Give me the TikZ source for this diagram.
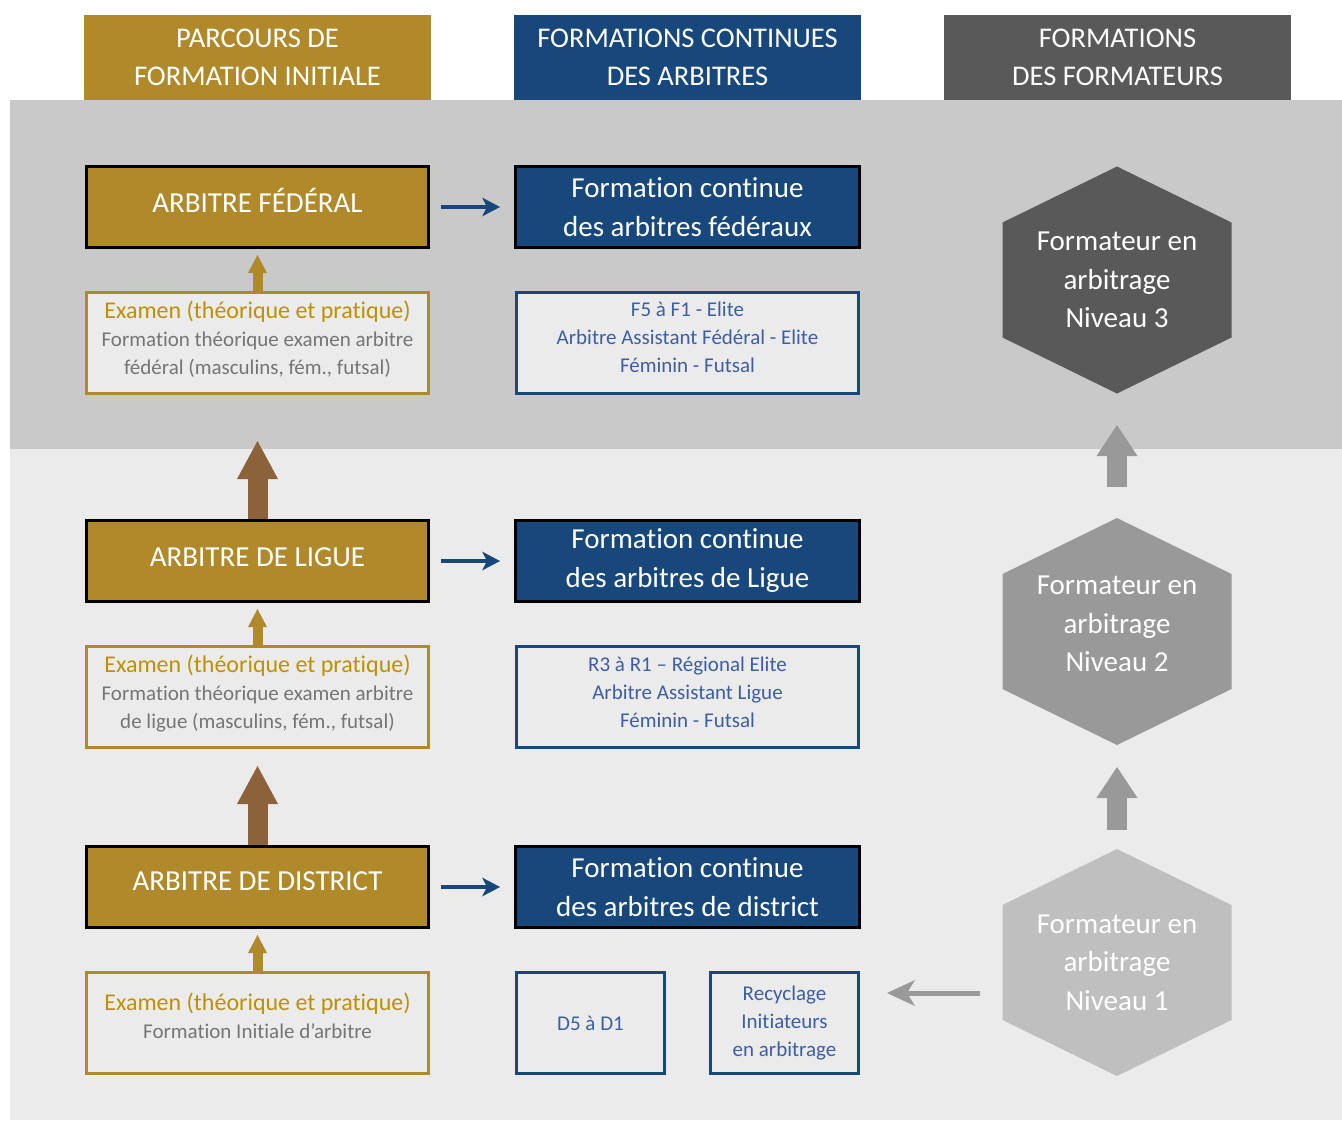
\documentclass[tikz,border=0pt]{standalone}
\usepackage{fontspec}
\setmainfont{Carlito}[Ligatures=NoCommon]
\usetikzlibrary{positioning,
        arrows.meta}
\usepackage{xcolor}
\definecolor{ocre}{HTML}{B0892B}
\definecolor{navy}{HTML}{17477B}
\definecolor{slate}{HTML}{595959}
\definecolor{examgold}{HTML}{BF9000}
\definecolor{txtgray}{HTML}{757575}
\definecolor{txtblue}{HTML}{3C5FA3}
\definecolor{brownarrow}{HTML}{8C623A}
\definecolor{bandtop}{HTML}{C9C9C9}
\definecolor{bandlow}{HTML}{EBEBEB}
\definecolor{hexone}{HTML}{BFBFBF}
\definecolor{hextwo}{HTML}{999999}

\begin{document}
\begin{tikzpicture}[x=1pt,y=-1pt,
        base/.style={inner sep=0pt,align=center},
        headbox/.style={base,text=white,minimum width=347pt,minimum height=85pt,
                font=\fontsize{28.5}{38}\selectfont},
        levelbox/.style={base,draw=black,line width=3pt,fill=ocre,text=white,text height=20pt,text depth=10pt,
                minimum width=342pt,minimum height=81pt,font=\fontsize{29}{39}\selectfont},
        contbox/.style={base,draw=black,line width=3pt,fill=navy,text=white,
                minimum width=344pt,minimum height=81pt,font=\fontsize{29}{39}\selectfont},
        exambox/.style={base,draw=ocre,line width=3pt,fill=bandlow,text=txtgray,text depth=11pt,
                minimum width=342pt,minimum height=101pt,font=\fontsize{21}{28}\selectfont},
        listbox/.style={base,draw=navy,line width=3pt,fill=bandlow,text=txtblue,
                minimum height=101pt,font=\fontsize{21}{28}\selectfont},
        hextext/.style={base,text=white,font=\fontsize{29}{38.5}\selectfont},
        goldup/.style={ocre,line width=10pt,-{Triangle[length=18pt,width=19pt,line width=0pt]}},
        brownup/.style={brownarrow,line width=20pt,-{Triangle[length=38pt,width=41pt,line width=0pt]}},
        grayup/.style={hextwo,line width=20pt,-{Triangle[length=31pt,width=41pt,line width=0pt]}},
        bluearrow/.style={navy,line width=4pt,-{Stealth[length=18pt,width=19pt,inset=5pt,line width=0pt]}},
        grayarrow/.style={hextwo,line width=5pt,-{Stealth[length=28pt,width=26pt,inset=8pt,line width=0pt]}}]

        % background bands
        \useasboundingbox (0,0) rectangle (1342,1120);
        \fill[white] (0,0) rectangle (1342,1120);
        \fill[bandtop] (10,100) rectangle (1342,449);
        \fill[bandlow] (10,449) rectangle (1342,1120);

        % column headers
        \node [headbox,fill=ocre] (h1) at (257.5,57.5) {PARCOURS DE\\FORMATION INITIALE};
        \node [headbox,fill=navy] (h2) at (687.5,57.5) {FORMATIONS CONTINUES\\DES ARBITRES};
        \node [headbox,fill=slate] (h3) at (1117.5,57.5) {FORMATIONS\\DES FORMATEURS};

        % initial path
        \node [levelbox] (fed) at (257.5,207) {ARBITRE FÉDÉRAL};
        \node [levelbox] (lig) at (257.5,561) {ARBITRE DE LIGUE};
        \node [levelbox,text depth=14pt] (dist) at (257.5,887) {ARBITRE DE DISTRICT};
        \node [exambox] (exfed) at (257.5,343) {{\fontsize{24}{28}\selectfont\color{examgold}Examen (théorique et pratique)}\\Formation théorique examen arbitre\\fédéral (masculins, fém., futsal)};
        \node [exambox] (exlig) at (257.5,697) {{\fontsize{24}{28}\selectfont\color{examgold}Examen (théorique et pratique)}\\Formation théorique examen arbitre\\de ligue (masculins, fém., futsal)};
        \node [exambox,text depth=15pt] (exdist) at (257.5,1023) {{\fontsize{24}{30}\selectfont\color{examgold}Examen (théorique et pratique)}\\Formation Initiale d’arbitre};

        % continuing training
        \node [contbox] (cfed) at (687.5,207) {Formation continue\\des arbitres fédéraux};
        \node [contbox] (clig) at (687.5,561) {Formation continue\\des arbitres de Ligue};
        \node [contbox,text depth=0pt] (cdist) at (687.5,887) {Formation continue\\des arbitres de district};
        \node [listbox,minimum width=342pt,text depth=11pt] (lfed) at (687.5,343) {F5 à F1 - Elite\\Arbitre Assistant Fédéral - Elite\\Féminin - Futsal};
        \node [listbox,minimum width=342pt,text depth=10pt] (llig) at (687.5,697) {R3 à R1 – Régional Elite\\Arbitre Assistant Ligue\\Féminin - Futsal};
        \node [listbox,minimum width=148pt] (d5) at (590.5,1023) {D5 à D1};
        \node [listbox,minimum width=148pt] (recyc) at (784.5,1023) {Recyclage\\Initiateurs\\en arbitrage};

        % trainers
        \coordinate (n3) at (1117,280);
        \coordinate (n2) at (1117,631.5);
        \coordinate (n1) at (1117,962.5);
        \fill[slate] (n3) ++(0,-113.5) -- ++(114.5,56) -- ++(0,115) -- ++(-114.5,56) -- ++(-114.5,-56) -- ++(0,-115) -- cycle;
        \fill[hextwo] (n2) ++(0,-113.5) -- ++(114.5,56) -- ++(0,115) -- ++(-114.5,56) -- ++(-114.5,-56) -- ++(0,-115) -- cycle;
        \fill[hexone] (n1) ++(0,-113.5) -- ++(114.5,56) -- ++(0,115) -- ++(-114.5,56) -- ++(-114.5,-56) -- ++(0,-115) -- cycle;
        \node [hextext] (niv3) at (n3) {Formateur en\\arbitrage\\Niveau 3};
        \node [hextext,text depth=15pt] (niv2) at (n2) {Formateur en\\arbitrage\\Niveau 2};
        \node [hextext] (niv1) at (n1) {Formateur en\\arbitrage\\Niveau 1};

        % arrows
        \draw [goldup] (exfed.north) -- ([yshift=-6pt]fed.south);
        \draw [goldup] (exlig.north) -- ([yshift=-6pt]lig.south);
        \draw [goldup] (exdist.north) -- ([yshift=-6pt]dist.south);
        \draw [brownup] (lig.north) -- ([yshift=-46pt]exfed.south);
        \draw [brownup] (dist.north) -- ([yshift=-17pt]exlig.south);
        \draw [bluearrow] ([xshift=11pt]fed.east) -- ([xshift=-14pt]cfed.west);
        \draw [bluearrow] ([xshift=11pt]lig.east) -- ([xshift=-14pt]clig.west);
        \draw [bluearrow] ([xshift=11pt]dist.east) -- ([xshift=-14pt]cdist.west);
        \draw [grayup] ([yshift=144.5pt]n2) -- ([yshift=-145pt]n3);
        \draw [grayup] ([yshift=132.5pt]n1) -- ([yshift=-135.5pt]n2);
        \draw [grayarrow] ([xshift=-137pt,yshift=-30.5pt]n1) -- ([xshift=27pt,yshift=30pt]recyc.east);
\end{tikzpicture}
\end{document}
